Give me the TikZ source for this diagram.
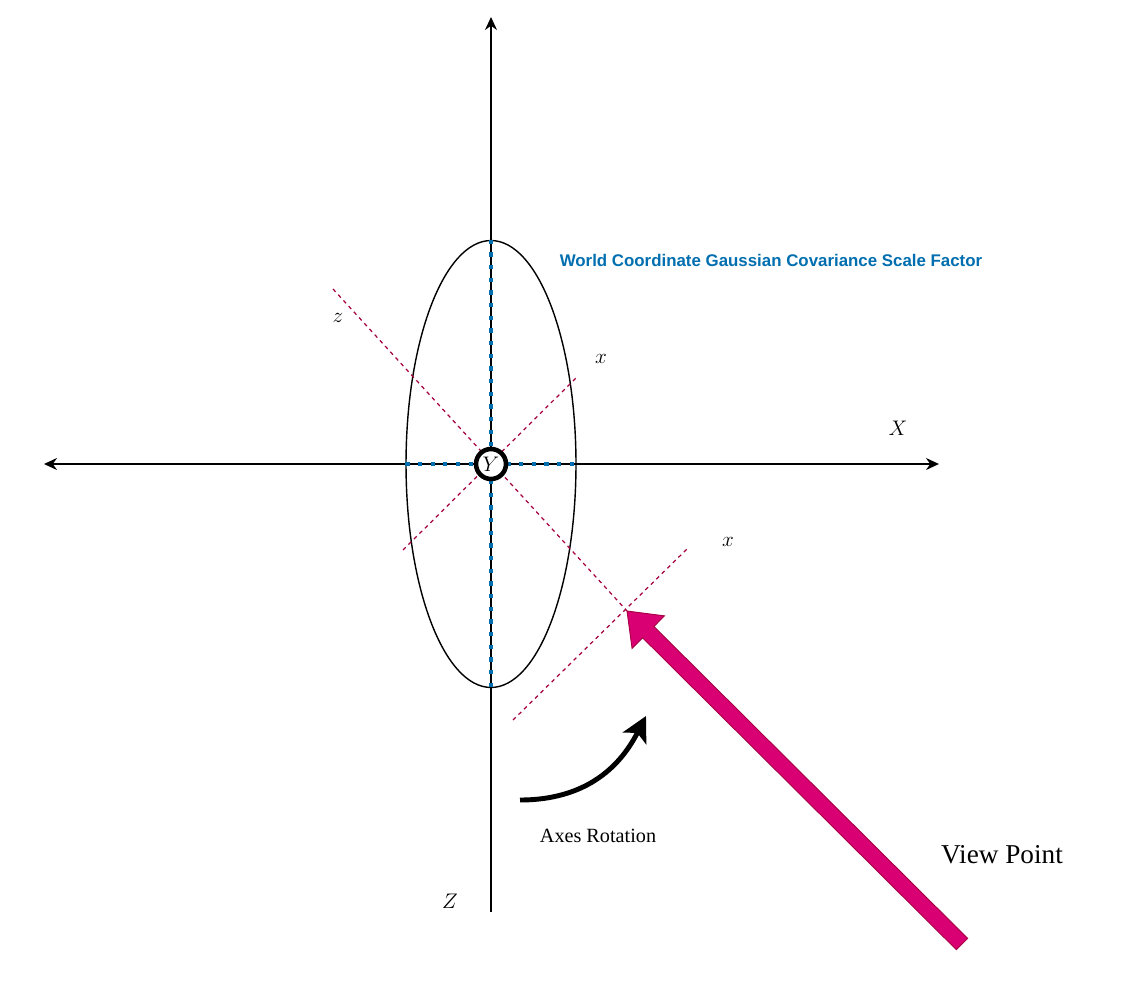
\documentclass[tikz,border=0pt]{standalone}
\usepackage{fontspec}
\newfontfamily\serifrm{Liberation Serif}
\newfontfamily\sansrm{Liberation Sans}
\usepackage{tikz}
\usetikzlibrary{arrows.meta,positioning,shapes.geometric,calc}
\usepackage{xcolor}
\definecolor{covblue}{HTML}{006EAF}
\definecolor{rotred}{HTML}{A50040}
\definecolor{vpmagenta}{HTML}{D80073}
\tikzset{
  axisline/.style={draw=black, line width=0.8pt},
  axistip/.tip={Stealth[length=0.26cm,width=0.24cm]},
  covline/.style={draw=covblue, line width=2.4pt, dash pattern=on 2.4pt off 4.8pt},
  rotline/.style={draw=rotred, line width=0.7pt, dash pattern=on 2.2pt off 2.2pt},
  rotarrow/.style={draw=black, line width=2.8pt, -{Stealth[length=0.5cm,width=0.52cm,inset=0.12cm]}},
  vparrow/.style={draw=rotred, fill=vpmagenta, line width=0.5pt},
  axlabel/.style={font=\fontsize{12.5}{14}\selectfont}
}

\begin{document}
\begin{tikzpicture}[x=0.02cm, y=-0.02cm]
    \useasboundingbox (0,0) rectangle (1145,993);
    % Ejes
    \coordinate (ztop)   at (491,17);
    \coordinate (zbot)   at (491,912);
    \coordinate (xleft)  at (44,464);
    \coordinate (xright) at (939,464);
    \draw[axisline, -axistip] (zbot) -- (ztop);
    \draw[axisline, axistip-axistip] (xleft) -- (xright);
    % Elipse de covarianza
    \node[ellipse, draw, line width=0.8pt, minimum width=3.4cm, minimum height=8.94cm, inner sep=0pt]
                                           (cov) at (491,464) {};
    \draw[covline] (cov.north) -- (cov.south);
    \draw[covline] (cov.west) -- (cov.east);
    % Ejes rotados
    \coordinate (zend)  at (333,289);
    \coordinate (vptip) at (627,611);
    \coordinate (xa)    at (403,550);
    \coordinate (xb)    at (577,377);
    \coordinate (xc)    at (513,720);
    \coordinate (xd)    at (688,548);
    \draw[rotline] (zend) -- (vptip);
    \draw[rotline] (xa) -- (xb);
    \draw[rotline] (xc) -- (xd);
    \node[circle, draw, line width=2.6pt, fill=white, minimum size=0.6cm, inner sep=0pt,
          font=\fontsize{12.5}{14}\selectfont]
                                           (origin) at (491,464) {$Y$};
    % Etiquetas
    \node[axlabel] (lz)  at (338,318) {$z$};
    \node[axlabel] (lx)  at (601,359) {$x$};
    \node[axlabel] (lx2) at (728,542) {$x$};
    \node[axlabel] (lX)  at (898,428) {$X$};
    \node[axlabel] (lZ)  at (450,901) {$Z$};
    \node[font=\sansrm\bfseries\fontsize{9.6}{11}\selectfont, text=covblue]
                   (title) at (771,260) {World Coordinate Gaussian Covariance Scale Factor};
    % Rotacion
    \coordinate (rotstart) at (520,800);
    \coordinate (rotend)   at (646,716);
    \draw[rotarrow] (rotstart) .. controls (595,800) and (625,757) .. (rotend);
    \node[font=\serifrm\fontsize{11.5}{14}\selectfont] (rotlabel) at (598,836) {Axes Rotation};
    % Punto de vista
    \coordinate (vptail) at (962,944);
    \coordinate (vpbase) at ($(vptip)!0.6cm!(vptail)$);
    \filldraw[vparrow] (vptip) -- ($(vpbase)!0.46cm!90:(vptip)$) -- ($(vpbase)!0.16cm!90:(vptip)$)
                  -- ($(vptail)!0.16cm!90:(vptip)$) -- ($(vptail)!0.16cm!-90:(vptip)$)
                  -- ($(vpbase)!0.16cm!-90:(vptip)$) -- ($(vpbase)!0.46cm!-90:(vptip)$) -- cycle;
    \node[font=\serifrm\fontsize{15.5}{18}\selectfont] (vplabel) at (1002,855) {View Point};
\end{tikzpicture}
\end{document}
